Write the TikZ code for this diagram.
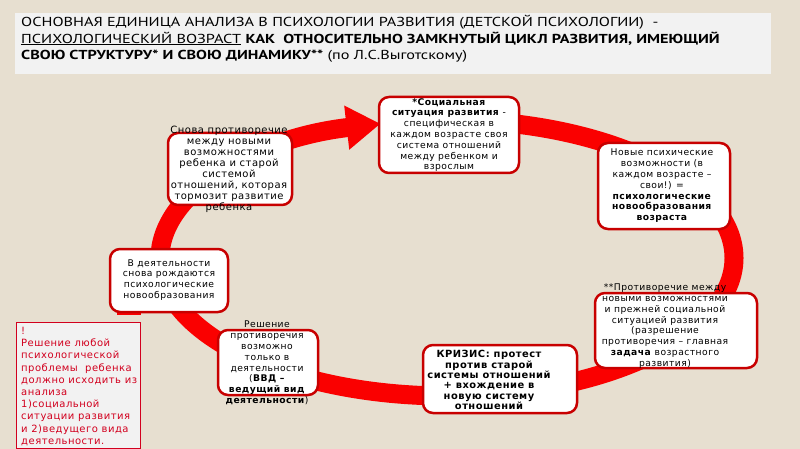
\documentclass[tikz,border=0pt]{standalone}
\usepackage{fontspec}
\setmainfont{DejaVu Sans}
\newfontfamily\boxfont[LetterSpace=5]{DejaVu Sans}
\newfontfamily\titlefont[FakeStretch=1.25]{PT Sans}
\usetikzlibrary{arrows.meta}

\definecolor{paper}{RGB}{231,223,208}
\definecolor{titlegray}{RGB}{242,242,242}
\definecolor{cardred}{RGB}{200,0,0}
\definecolor{ringred}{RGB}{250,0,0}
\definecolor{notered}{RGB}{210,0,30}

\begin{document}
\begin{tikzpicture}[x=1pt, y=-1pt,
  card/.style={draw=cardred, line width=2.5pt, fill=white, rounded corners=10pt, inner sep=0pt},
  cardtext/.style={align=center, inner sep=0pt, font=\boxfont\fontsize{9.2}{10.8}\selectfont},
  ring/.style={draw=ringred, line width=19pt, -{Triangle[length=34pt, width=42pt]}}]
% page and heading
\useasboundingbox (0,0) rectangle (800,449);
\fill[paper] (0,0) rectangle (800,449);
\fill[titlegray] (15,13) rectangle (771,74);
\node[anchor=north west, align=left, inner sep=0pt, font=\titlefont\fontsize{13}{16.5}\selectfont] (title) at (21,15)
  {ОСНОВНАЯ ЕДИНИЦА АНАЛИЗА В ПСИХОЛОГИИ РАЗВИТИЯ (ДЕТСКОЙ ПСИХОЛОГИИ)\ \ -\\
   \underline{ПСИХОЛОГИЧЕСКИЙ ВОЗРАСТ} \textbf{КАК\ \ ОТНОСИТЕЛЬНО ЗАМКНУТЫЙ ЦИКЛ РАЗВИТИЯ, ИМЕЮЩИЙ}\\
   \textbf{СВОЮ СТРУКТУРУ* И СВОЮ ДИНАМИКУ**} (по Л.С.Выготскому)};

% the cycle arrow
\draw[ring] (447,258) ++(-90:287 and 138) arc[start angle=-90, end angle=256.6, x radius=287, y radius=138];
\fill[ringred] (117,306) rectangle (141,315);

% boxes round the cycle
\node[card, minimum width=140pt, minimum height=76pt] (social) at (449,135) {};
\node[card, minimum width=124pt, minimum height=72pt] (again) at (230,169) {};
\node[card, minimum width=132pt, minimum height=86pt] (newform) at (664,186) {};
\node[card, minimum width=118pt, minimum height=63pt] (activity) at (169,280.5) {};
\node[card, minimum width=162pt, minimum height=75pt] (contra) at (676,330.5) {};
\node[card, minimum width=100pt, minimum height=65pt] (solve) at (268,362.5) {};
\node[card, minimum width=154pt, minimum height=68pt] (crisis) at (500,379) {};

\node[cardtext] (socialtxt) at (social.center) {\textbf{*Социальная}\\ \textbf{ситуация развития} -\\ специфическая в\\ каждом возрасте своя\\ система отношений\\ между ребенком и\\ взрослым};
\node[cardtext, font=\boxfont\fontsize{10}{11}\selectfont] (againtxt) at (229,169) {Снова противоречие\\ между новыми\\ возможностями\\ ребенка и старой\\ системой\\ отношений, которая\\ тормозит развитие\\ ребенка};
\node[cardtext] (newformtxt) at (662,186) {Новые психические\\ возможности (в\\ каждом возрасте –\\ свои!) =\\ \textbf{психологические}\\ \textbf{новообразования}\\ \textbf{возраста}};
\node[cardtext] (activitytxt) at (169,280) {В деятельности\\ снова рождаются\\ психологические\\ новообразования};
\node[cardtext] (contratxt) at (665,326) {**Противоречие между\\ новыми возможностями\\ и прежней социальной\\ ситуацией развития\\ (разрешение\\ противоречия – главная\\ \textbf{задача} возрастного\\ развития)};
\node[cardtext] (solvetxt) at (267,363) {Решение\\ противоречия\\ возможно\\ только в\\ деятельности\\ (\textbf{ВВД –}\\ \textbf{ведущий вид}\\ \textbf{деятельности})};
\node[cardtext, font=\boxfont\bfseries\fontsize{9.9}{10.4}\selectfont] (crisistxt) at (489,380) {КРИЗИС: протест\\ против старой\\ системы отношений\\ + вхождение в\\ новую систему\\ отношений};

% note in the corner
\node[draw=notered, line width=1pt, fill=titlegray, minimum width=124pt, minimum height=126pt, anchor=north west, inner sep=0pt] (note) at (16,322) {};
\node[anchor=north west, align=left, inner sep=0pt, text=notered, font=\boxfont\fontsize{10}{12.2}\selectfont] (notetxt) at (21,327) {!\\ Решение любой\\ психологической\\ проблемы\ \ ребенка\\ должно исходить из\\ анализа\\ 1)социальной\\ ситуации развития\\ и 2)ведущего вида\\ деятельности.};
\end{tikzpicture}
\end{document}
